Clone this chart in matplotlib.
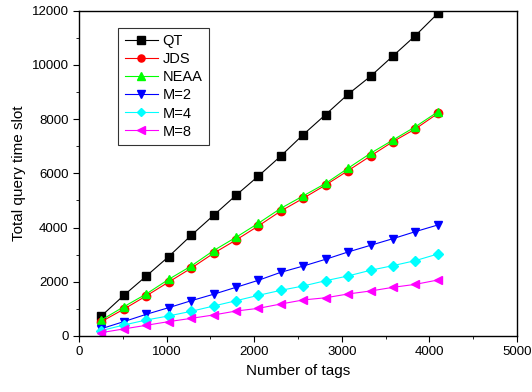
import matplotlib
matplotlib.use('Agg')
import matplotlib.pyplot as plt
from matplotlib.ticker import MultipleLocator

plt.rcParams['font.family'] = ['Liberation Sans', 'DejaVu Sans']

tags = [256, 512, 768, 1024, 1280, 1536, 1792, 2048,
        2304, 2560, 2816, 3072, 3328, 3584, 3840, 4096]

qt = [740, 1500, 2210, 2930, 3710, 4450, 5190, 5900,
      6640, 7430, 8170, 8920, 9580, 10330, 11080, 11900]
jds = [530, 990, 1480, 1990, 2500, 3050, 3540, 4060,
       4610, 5080, 5570, 6100, 6640, 7170, 7640, 8210]
neaa = [590, 1080, 1550, 2090, 2580, 3150, 3640, 4160,
        4710, 5170, 5630, 6190, 6740, 7230, 7720, 8270]
m2 = [270, 530, 800, 1045, 1300, 1540, 1795, 2055,
      2350, 2580, 2830, 3100, 3345, 3590, 3850, 4095]
m4 = [200, 405, 590, 740, 910, 1105, 1300, 1500,
      1685, 1845, 2040, 2215, 2425, 2595, 2780, 3025]
m8 = [125, 260, 395, 530, 650, 775, 920, 1020,
      1180, 1330, 1410, 1550, 1660, 1795, 1905, 2065]

series = [
    ('QT', qt, 'black', 's'),
    ('JDS', jds, 'red', 'o'),
    ('NEAA', neaa, '#00ff00', '^'),
    ('M=2', m2, 'blue', 'v'),
    ('M=4', m4, 'cyan', 'D'),
    ('M=8', m8, 'magenta', '<'),
]

fig = plt.figure(figsize=(5.32, 3.92), dpi=100)
ax = fig.add_axes([0.1485, 0.1429, 0.8233, 0.8298])

for name, vals, col, mk in series:
    ms = 5.0 if mk == 'D' else 6.0
    ax.plot(tags, vals, color=col, marker=mk, markersize=ms,
            linewidth=0.8, label=name)

ax.set_xlim(0, 5000)
ax.set_ylim(0, 12000)
ax.xaxis.set_major_locator(MultipleLocator(1000))
ax.xaxis.set_minor_locator(MultipleLocator(500))
ax.yaxis.set_major_locator(MultipleLocator(2000))
ax.yaxis.set_minor_locator(MultipleLocator(1000))
ax.tick_params(which='both', direction='out', labelsize=9.5,
               top=False, right=False)
ax.tick_params(which='major', length=4)
ax.tick_params(which='minor', length=2.5)

for s in ax.spines.values():
    s.set_linewidth(1.0)

ax.set_xlabel('Number of tags', fontsize=11)
ax.set_ylabel('Total query time slot', fontsize=11)

leg = ax.legend(loc='upper left', bbox_to_anchor=(0.089, 0.948),
                fontsize=10.5, frameon=True, fancybox=False,
                edgecolor='black', handlelength=2.3, handletextpad=0.3,
                labelspacing=0.28, borderpad=0.45, borderaxespad=0,
                markerscale=0.85)
leg.get_frame().set_linewidth(0.8)

fig.savefig('out.png', dpi=100)
